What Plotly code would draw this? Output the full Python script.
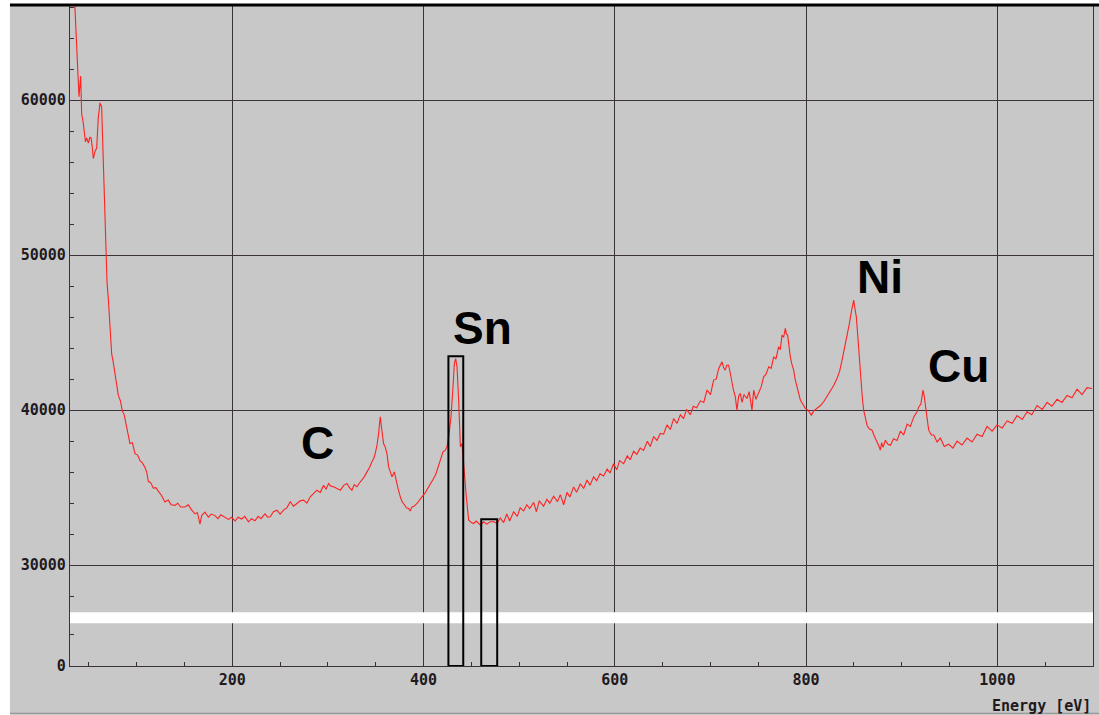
import plotly.graph_objects as go

# Auger electron spectrum: kinetic energy (eV) vs. counts
energy_ev = [
    35, 36.6, 37.9, 39.7, 41.5, 42.5, 44, 45.3, 46.5, 47.7, 49.5, 51, 52.3, 53.5, 54.7,
    56.5, 58.2, 59.9, 61.7, 63.4, 64.5, 65.8, 66.9, 67.9, 69, 70.4, 72.1, 73.9, 75.5,
    77.3, 79, 80.8, 83, 85, 87, 89.5, 91, 93, 95.5, 98.3, 101, 103.5, 106, 108.7, 110.5,
    112.2, 115, 117.4, 120, 122.7, 126, 129.6, 133, 136, 140.1, 143, 146, 150.5, 154,
    157, 161, 163.5, 166.2, 168, 171.4, 175, 178, 181.9, 185, 188, 192.3, 196, 199.3,
    203, 206, 209.8, 213, 217, 220, 223.7, 227, 230, 234.2, 237, 239.7, 243, 246.7, 250,
    253.6, 257, 260.6, 264, 267.6, 271, 274.6, 278, 281.5, 285, 288.5, 292, 295.5, 298,
    300.7, 303, 306, 309.5, 313, 316.5, 319.9, 322.5, 325.1, 327.5, 330.3, 333, 335.6,
    338, 340.8, 343.5, 346, 348, 349.5, 351.5, 353, 354.7, 356, 358.2, 360, 361.7, 363.5,
    365, 367, 369.4, 371.5, 373.5, 375.7, 377.5, 379.1, 382, 384.4, 386, 387.9, 390,
    393.1, 396, 398.3, 401, 403.5, 407, 410.5, 413, 415.7, 418, 420.3, 422.8, 424.5,
    426.3, 428.7, 430.8, 432.2, 433.6, 435, 436.7, 438.5, 440.2, 442.6, 444.7, 447.2,
    450, 452.4, 455, 459.4, 462.8, 466, 469.8, 473.2, 477, 480.3, 483.7, 487, 490, 494.2,
    498, 501, 504.6, 508, 511, 515.1, 518, 521, 525.5, 529, 532, 536, 540, 543, 546.5,
    550, 553, 556.9, 560, 564, 567.4, 571, 574, 577.8, 581, 584.5, 588.3, 592, 595,
    598.7, 602, 605, 609.2, 613, 616, 619.7, 623, 626.5, 630.1, 634, 637, 640.6, 644,
    647.5, 651, 654.5, 658, 661.5, 665, 668.5, 671.9, 675, 678.9, 682, 685.5, 689.4, 693,
    696.4, 700, 703.3, 706, 708.6, 710.3, 712.1, 714, 715.5, 717, 719, 721, 722.5, 724,
    726, 727.7, 729.5, 731.2, 733, 735, 738.2, 740.5, 743.4, 745.2, 747.5, 750.4, 753,
    755.6, 758, 760.9, 763.5, 766.1, 768.5, 771.3, 773, 774.8, 776.5, 778.3, 779.5,
    780.7, 782, 783.5, 785, 787, 788.5, 790.5, 792, 794, 796.5, 799.2, 802, 805.5, 808,
    811.4, 815, 818.4, 822, 825.4, 829, 832.3, 835, 837.6, 840, 842.8, 845, 847, 848.5,
    849.8, 851, 852.5, 853.8, 855, 856.2, 857.4, 858.8, 860.2, 862, 863.7, 866, 868.9,
    871.5, 874.2, 876, 877.6, 879, 880.5, 882.9, 885.5, 888.1, 891.5, 895.1, 898.6, 902,
    905.6, 909, 912.5, 916, 917.8, 920, 921.5, 922.3, 923.5, 924.7, 926.5, 928.2, 931,
    933.5, 937, 940.4, 944.5, 949.1, 953.5, 957.9, 963, 968.3, 973.5, 978.8, 984, 989.2,
    994.5, 999.7, 1005, 1010.2, 1015.5, 1020.6, 1026, 1031.1, 1036, 1041.5, 1047, 1052,
    1057, 1062.4, 1067.5, 1072.9, 1078, 1083.4, 1088.5, 1093.8, 1099,
]
counts = [
    66600, 64650, 62215, 60220, 61550, 59110, 58600, 58000, 57300, 57560, 57230, 57600,
    57560, 57000, 56230, 56700, 56900, 58890, 59820, 59560, 57340, 55350, 53130, 51140,
    48260, 47150, 45380, 43610, 43100, 42280, 41500, 40950, 40600, 39950, 39700, 38960,
    38500, 37850, 37900, 37190, 37100, 36740, 36600, 36300, 36000, 35410, 35300, 34970,
    35000, 34750, 34500, 34080, 34200, 33900, 33860, 34000, 33750, 33750, 33900, 33600,
    33310, 33400, 32650, 33200, 33420, 33100, 33300, 33200, 33000, 33250, 33090, 32950,
    33090, 32850, 33100, 32980, 33150, 32800, 33000, 32870, 33150, 33000, 33310, 33100,
    33120, 33450, 33550, 33300, 33550, 33700, 34090, 33800, 33980, 34150, 34200, 34000,
    34410, 34600, 34840, 34700, 35160, 34900, 35270, 35100, 35060, 34950, 34840, 35150,
    35270, 35000, 34840, 35200, 35060, 35300, 35490, 35700, 36020, 36300, 36670, 36900,
    37210, 37800, 38500, 39570, 38900, 37850, 37600, 37210, 36340, 36100, 35700, 36020,
    35380, 34900, 34410, 34100, 33980, 33700, 33660, 33500, 33760, 33800, 33980, 34250,
    34410, 34600, 34840, 35200, 35590, 35900, 36450, 36900, 37310, 37420, 37640, 38280,
    39570, 41510, 43010, 43330, 42800, 40640, 37640, 37850, 35700, 34410, 32900, 32750,
    32690, 32850, 32580, 32800, 32650, 32800, 32800, 32700, 33050, 32750, 33300, 32850,
    33450, 33150, 33700, 33500, 33900, 33650, 34050, 33450, 34150, 33800, 34250, 34000,
    34450, 34100, 34550, 33900, 34700, 34400, 35050, 34700, 35250, 34950, 35500, 35150,
    35700, 35450, 35900, 35750, 36200, 35950, 36550, 36150, 36750, 36550, 37050, 36800,
    37350, 37150, 37550, 37400, 38000, 37650, 38300, 38050, 38500, 38450, 39050, 38750,
    39450, 39150, 39700, 39450, 40050, 39700, 40250, 40150, 40600, 40500, 41300, 41000,
    41940, 42000, 42690, 42900, 43120, 42700, 42580, 42900, 42900, 42300, 41720, 41300,
    40860, 40000, 40900, 41080, 40500, 41000, 40750, 41200, 40000, 41290, 40700, 41080,
    41500, 42150, 42300, 42800, 42700, 43440, 43300, 44090, 43900, 44840, 44700, 45270,
    44900, 44840, 44000, 43440, 43000, 42580, 42000, 41510, 41100, 40650, 40400, 40110,
    40000, 39680, 39950, 40110, 40300, 40540, 40900, 41290, 41600, 42040, 42500, 43230,
    43900, 44730, 45500, 46240, 46700, 47100, 46600, 46020, 45000, 43870, 42700, 41720,
    40800, 40000, 39400, 39030, 38800, 38710, 38300, 37960, 37700, 37420, 37900, 37600,
    38060, 37800, 37740, 38150, 38050, 38650, 38400, 39100, 38950, 39550, 39900, 40210,
    40400, 41000, 41290, 40900, 40430, 39500, 38710, 38400, 38400, 37950, 38200, 37650,
    37800, 37550, 38000, 37750, 38200, 37950, 38450, 38300, 38950, 38650, 39050, 38850,
    39300, 39150, 39650, 39400, 39900, 39700, 40300, 40050, 40500, 40250, 40700, 40500,
    40950, 40800, 41350, 41000, 41450, 41400,
]

# The counts axis is broken: the stretch between 0 and ~28000 is cut out,
# so true zero sits at this axis position on the lower segment.
ZERO_POS = 23500
BREAK_LO, BREAK_HI = 26260, 26970
Y_TOP = 66130

y_major_vals = [ZERO_POS, 30000, 40000, 50000, 60000]
y_major_text = ["0", "30000", "40000", "50000", "60000"]
y_minor_vals = [ZERO_POS + 2000] + [v for v in range(28000, Y_TOP, 2000) if v % 10000]

x_major_vals = [200, 400, 600, 800, 1000]
x_major_text = ["200", "400", "600", "800", "1000"]

# Integration windows: (start eV, end eV, top counts); drawn from true zero
sn_windows = [(426, 441.5, 43480), (460.3, 477, 32970)]

# Element labels: (text, eV, counts)
element_labels = [
    ("C", 288.6, 37870),
    ("Sn", 461.4, 45290),
    ("Ni", 877.6, 48580),
    ("Cu", 959.2, 42840),
]

PANEL = "#c8c8c8"
GRID = "#3a3238"
TICK_FONT = dict(family="DejaVu Sans Mono", size=15, color="#1e1a1e", weight="bold")

fig = go.Figure()
fig.add_trace(go.Scatter(
    x=energy_ev, y=counts, mode="lines",
    line=dict(color="#ff2222", width=1.1),
    hoverinfo="skip", showlegend=False,
))

shapes = []
# left and top page margins are white; the panel is grey
shapes.append(dict(type="rect", xref="paper", yref="paper",
                   x0=-0.08, x1=-0.0587, y0=-0.2, y1=1.1,
                   fillcolor="white", line_width=0, layer="below"))
shapes.append(dict(type="rect", xref="paper", yref="paper",
                   x0=-0.08, x1=1.1, y0=1.0, y1=1.1,
                   fillcolor="white", line_width=0, layer="below"))
shapes.append(dict(type="line", xref="paper", yref="paper",
                   x0=-0.0587, x1=1.006, y0=1.0, y1=1.0,
                   line=dict(color="black", width=3)))
shapes.append(dict(type="line", xref="paper", yref="paper",
                   x0=-0.0587, x1=1.006, y0=-0.0715, y1=-0.0715,
                   line=dict(color="#8c8c8c", width=1)))
# white band marking the axis break (covers the grid, not the windows)
shapes.append(dict(type="rect", xref="paper", yref="y",
                   x0=0, x1=1, y0=BREAK_LO, y1=BREAK_HI,
                   fillcolor="white", line_width=0))
for x0, x1, top in sn_windows:
    shapes.append(dict(type="rect", xref="x", yref="y",
                       x0=x0, x1=x1, y0=ZERO_POS, y1=top,
                       line=dict(color="black", width=2), fillcolor="rgba(0,0,0,0)"))

annotations = []
for name, ex, cy in element_labels:
    annotations.append(dict(
        x=ex, y=cy, xref="x", yref="y", text=name, showarrow=False,
        xanchor="center", yanchor="middle",
        font=dict(family="Liberation Sans, Arial", size=46, color="black", weight="bold"),
    ))
annotations.append(dict(
    x=1.0, y=-0.0605, xref="paper", yref="paper", text="Energy [eV]",
    showarrow=False, xanchor="right", yanchor="middle", font=TICK_FONT,
))

fig.update_layout(
    width=1099, height=715,
    margin=dict(l=70, r=6, t=5, b=49),
    paper_bgcolor=PANEL, plot_bgcolor=PANEL,
    shapes=shapes, annotations=annotations,
    xaxis=dict(
        range=[30.3, 1100], tickmode="array", tickvals=x_major_vals, ticktext=x_major_text,
        showgrid=True, gridcolor=GRID, gridwidth=1.2, zeroline=False,
        showline=True, linecolor=GRID, linewidth=1.2, mirror=True,
        ticks="", tickfont=TICK_FONT,
        minor=dict(dtick=50, tick0=0, ticks="inside", ticklen=4, tickcolor=GRID, showgrid=False),
    ),
    yaxis=dict(
        range=[ZERO_POS, Y_TOP], tickmode="array", tickvals=y_major_vals, ticktext=y_major_text,
        showgrid=True, gridcolor=GRID, gridwidth=1.2, zeroline=False,
        showline=True, linecolor=GRID, linewidth=1.2, mirror=True,
        ticks="", tickfont=TICK_FONT,
        minor=dict(tickmode="array", tickvals=y_minor_vals, ticks="inside", ticklen=4,
                   tickcolor=GRID, showgrid=False),
    ),
)

fig.write_html("out.html")
